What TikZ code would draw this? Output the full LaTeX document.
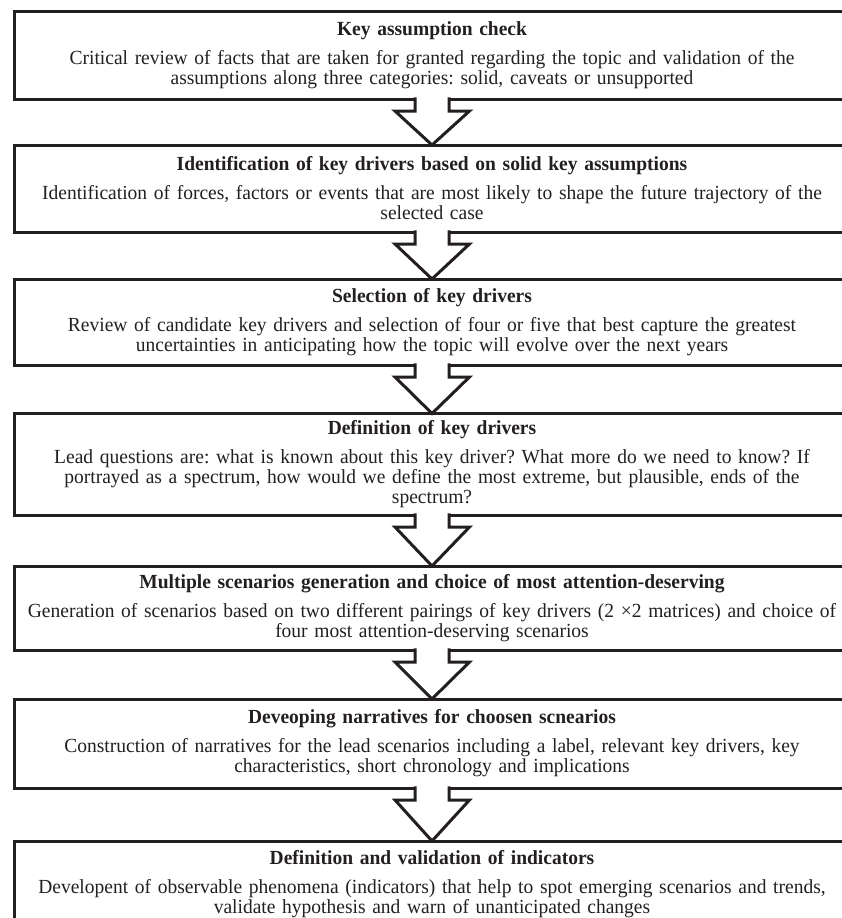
\documentclass[tikz,border=0pt]{standalone}
\usepackage{fontspec}
\setmainfont[FakeStretch=0.975]{Liberation Serif}
\frenchspacing
\usetikzlibrary{calc}
\definecolor{inkgrey}{RGB}{35,31,32}

\begin{document}
\begin{tikzpicture}[x=1pt,y=-1pt,
  stagebox/.style={draw=inkgrey,line width=3pt,text=inkgrey,outer sep=0pt,inner sep=2pt,
    minimum width=836pt,text width=830pt,align=center,anchor=north,
    font=\fontsize{20}{20}\selectfont},
  blockarrow/.style={draw=inkgrey,fill=white,line width=3pt,line join=miter}]
\useasboundingbox (0,0) rectangle (842,918);
\node[stagebox,minimum height=87.5pt] (check) at (432,11.5) {\textbf{Key assumption check}\\[9pt]
Critical review of facts that are taken for granted regarding the topic and validation of the\\
assumptions along three categories: solid, caveats or unsupported};
\node[stagebox,minimum height=87pt] (drivers) at (432,145) {\textbf{Identification of key drivers based on solid key assumptions}\\[9pt]
Identification of forces, factors or events that are most likely to shape the future trajectory of the\\
selected case};
\node[stagebox,minimum height=86pt] (selection) at (432,279) {\textbf{Selection of key drivers}\\[9pt]
Review of candidate key drivers and selection of four or five that best capture the greatest\\
uncertainties in anticipating how the topic will evolve over the next years};
\node[stagebox,minimum height=101.5pt] (definition) at (432,413.5) {\textbf{Definition of key drivers}\\[9pt]
Lead questions are: what is known about this key driver? What more do we need to know? If\\
portrayed as a spectrum, how would we define the most extreme, but plausible, ends of the\\
spectrum?};
\node[stagebox,minimum height=84pt] (scenarios) at (432,566) {\textbf{Multiple scenarios generation and choice of most attention-deserving}\\[9pt]
Generation of scenarios based on two different pairings of key drivers (2 ×2 matrices) and choice of\\
four most attention-deserving scenarios};
\node[stagebox,minimum height=89pt] (narratives) at (432,699) {\textbf{Deveoping narratives for choosen scnearios}\\[9pt]
Construction of narratives for the lead scenarios including a label, relevant key drivers, key\\
characteristics, short chronology and implications};
\node[stagebox,minimum height=87pt] (indicators) at (432,841) {\textbf{Definition and validation of indicators}\\[9pt]
Developent of observable phenomena (indicators) that help to spot emerging scenarios and trends,\\
validate hypothesis and warn of unanticipated changes};
\foreach \a/\b in {check/drivers,drivers/selection,selection/definition,definition/scenarios,scenarios/narratives,narratives/indicators}
  \draw[blockarrow] ($(\a.south)+(-17,-1.6)$) -- ++(0,13.6) -- ++(-20,0) -- (\b.north)
    -- ($(\a.south)+(37.5,12)$) -- ++(-20.5,0) -- ++(0,-13.6);
\end{tikzpicture}
\end{document}
